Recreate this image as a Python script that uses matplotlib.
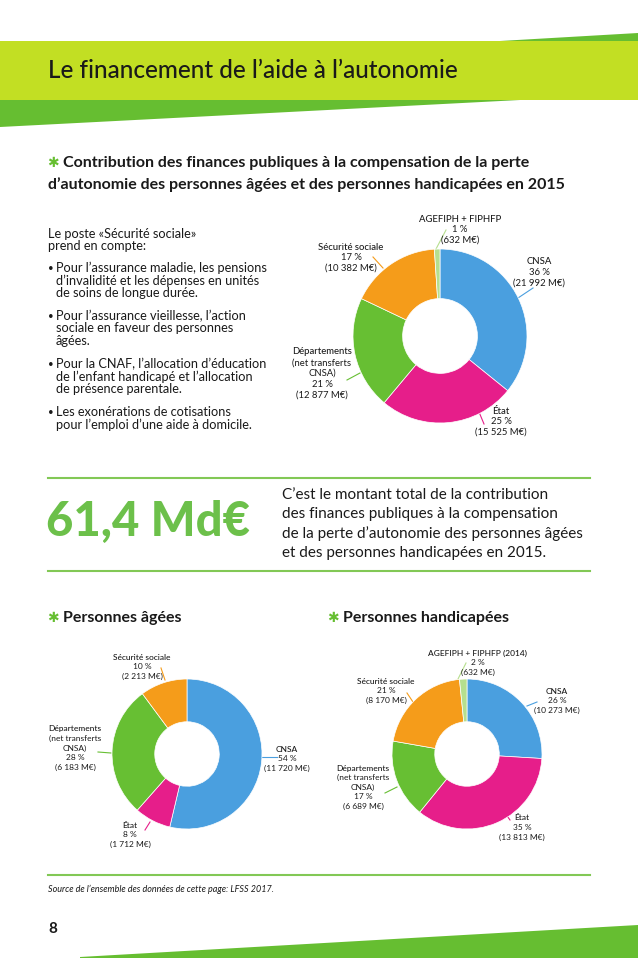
import matplotlib
matplotlib.use("Agg")
import matplotlib.pyplot as plt
from matplotlib.patches import Polygon, Rectangle

W, H = 638, 958
plt.rcParams['font.family'] = ['Lato', 'DejaVu Sans']

# ---- data (read from the page) ----
top_names = ["CNSA", "État", "Départements\n(net transferts\nCNSA)", "Sécurité sociale", "AGEFIPH + FIPHFP"]
top_values = [21992, 15525, 12877, 10382, 632]

aged_names = ["CNSA", "État", "Départements\n(net transferts\nCNSA)", "Sécurité sociale"]
aged_values = [11720, 1712, 6183, 2213]

hand_names = ["CNSA", "État", "Départements\n(net transferts\nCNSA)", "Sécurité sociale", "AGEFIPH + FIPHFP (2014)"]
hand_values = [10273, 13813, 6689, 8170, 632]

total_md = 61.4

bullets = [
    "Pour l\u2019assurance maladie, les pensions\nd\u2019invalidité et les dépenses en unités\nde soins de longue durée.",
    "Pour l\u2019assurance vieillesse, l\u2019action\nsociale en faveur des personnes\nâgées.",
    "Pour la CNAF, l\u2019allocation d\u2019éducation\nde l\u2019enfant handicapé et l\u2019allocation\nde présence parentale.",
    "Les exonérations de cotisations\npour l\u2019emploi d\u2019une aide à domicile.",
]

# ---- styles ----
funder_colors = {
    "CNSA": "#4a9fdf",
    "État": "#e61e8a",
    "Départements": "#67bf33",
    "Sécurité sociale": "#f59c1a",
    "AGEFIPH": "#b6df8e",
}
LIME = "#c2df23"
GREEN = "#66be31"
RULE = "#82c855"
TXT = "#1a1a1a"


def color_for(name):
    for key, c in funder_colors.items():
        if name.startswith(key):
            return c
    return "#888888"


def fmt_amount(v):
    return "({:,} M€)".format(v).replace(",", " ")


fig = plt.figure(figsize=(W / 100, H / 100), dpi=100)
ax = fig.add_axes([0, 0, 1, 1])
ax.set_xlim(0, W)
ax.set_ylim(H, 0)
ax.axis("off")

# header band
ax.add_patch(Rectangle((0, 41), W, 59, color=LIME, lw=0))
ax.add_patch(Polygon([(0, 100), (520, 100), (0, 127)], closed=True, color=GREEN, lw=0))
ax.add_patch(Polygon([(500, 41), (W, 33), (W, 41)], closed=True, color=GREEN, lw=0))
ax.text(48, 70, "Le financement de l\u2019aide à l\u2019autonomie", fontsize=17.5,
        color=TXT, va="center", ha="left", fontweight="medium")

# subtitle
ax.text(47, 163, "\u2731", fontsize=10, color=GREEN, va="center", ha="left", family=["DejaVu Sans"])
ax.text(63, 163, "Contribution des finances publiques à la compensation de la perte",
        fontsize=11.5, fontweight="bold", color=TXT, va="center")
ax.text(48, 185, "d\u2019autonomie des personnes âgées et des personnes handicapées en 2015",
        fontsize=11.5, fontweight="bold", color=TXT, va="center")

# left text block
FS_BODY = 9.2
ax.text(48, 234, "Le poste «Sécurité sociale»", fontsize=FS_BODY, color=TXT, va="center")
ax.text(48, 246, "prend en compte:", fontsize=FS_BODY, color=TXT, va="center")
bullet_y = [268, 316, 364, 412]
for y0, b in zip(bullet_y, bullets):
    ax.text(48, y0, "•", fontsize=7, color=TXT, va="center")
    for i, line in enumerate(b.split("\n")):
        ax.text(56, y0 + i * 12.4, line, fontsize=FS_BODY, color=TXT, va="center")


def donut(cx, cy, R, values, names, layout, step, fs):
    pax = fig.add_axes([(cx - R) / W, 1 - (cy + R) / H, 2 * R / W, 2 * R / H])
    pax.pie(values, colors=[color_for(n) for n in names], startangle=90,
            counterclock=False, radius=1,
            wedgeprops=dict(width=0.57, edgecolor="white", linewidth=0.5))
    pax.set_xlim(-1, 1)
    pax.set_ylim(-1, 1)
    pax.axis("off")
    total = sum(values)
    for name, v, (lx, ly, seg) in zip(names, values, layout):
        c = color_for(name)
        ax.plot([seg[0], seg[2]], [seg[1], seg[3]], color=c, lw=0.8)
        lines = name.split("\n")
        for i, line in enumerate(lines):
            ax.text(lx, ly + i * step, line, fontsize=fs, color=TXT, ha="center",
                    va="center", fontweight="medium" if i == 0 else "normal")
        n = len(lines)
        ax.text(lx, ly + n * step, "{} %".format(round(v / total * 100)), fontsize=fs,
                color=TXT, ha="center", va="center")
        ax.text(lx, ly + (n + 1) * step, fmt_amount(v), fontsize=fs,
                color=TXT, ha="center", va="center")


# label anchor (x, first line y) and leader segment, per wedge
top_layout = [
    (539, 262, (533, 288, 518, 298)),
    (501, 411, (484, 424, 479, 412)),
    (322, 352, (347, 380, 360, 373)),
    (351, 247, (373, 257, 383, 268)),
    (460, 219, (446, 230, 436, 249)),
]
donut(440, 336, 87, top_values, top_names, top_layout, 10.7, 6.8)

aged_layout = [
    (287, 749, (262, 757, 277, 757)),
    (130, 825, (145, 830, 150, 822)),
    (75, 729, (98, 752, 111, 753)),
    (142, 657, (161, 668, 165, 680)),
]
donut(187, 754, 75, aged_values, aged_names, aged_layout, 9.6, 6.0)

hand_layout = [
    (557, 691, (537, 702, 527, 706)),
    (522, 818, (510, 820, 505, 813)),
    (363, 768, (385, 793, 397, 787)),
    (386, 681, (407, 693, 413, 702)),
    (478, 653, (466, 663, 458, 679)),
]
donut(467, 754, 75, hand_values, hand_names, hand_layout, 9.6, 6.0)

# key figure block
ax.plot([48, 590], [478, 478], color=RULE, lw=1.5)
ax.plot([48, 590], [571, 571], color=RULE, lw=1.5)
ax.text(46, 522, "{:.1f} Md€".format(total_md).replace(".", ","), fontsize=34,
        fontweight="black", color="#6cc04a", va="center", ha="left")
para = ["C\u2019est le montant total de la contribution",
        "des finances publiques à la compensation",
        "de la perte d\u2019autonomie des personnes âgées",
        "et des personnes handicapées en 2015."]
for i, line in enumerate(para):
    ax.text(282, 495 + i * 19.3, line, fontsize=11.0, color=TXT, va="center")

# section headings
ax.text(47, 618, "\u2731", fontsize=10, color=GREEN, va="center", family=["DejaVu Sans"])
ax.text(63, 618, "Personnes âgées", fontsize=11.5, fontweight="bold", color=TXT, va="center")
ax.text(327, 618, "\u2731", fontsize=10, color=GREEN, va="center", family=["DejaVu Sans"])
ax.text(343, 618, "Personnes handicapées", fontsize=11.5, fontweight="bold", color=TXT, va="center")

# footer
ax.plot([48, 590], [875, 875], color=RULE, lw=1.5)
ax.text(48, 889, "Source de l\u2019ensemble des données de cette page: LFSS 2017.", fontsize=6.5,
        style="italic", color=TXT, va="center")
ax.text(48, 929, "8", fontsize=11, fontweight="bold", color=TXT, va="center")
ax.add_patch(Polygon([(80, 957), (W, 925), (W, H), (80, H)], closed=True, color=GREEN, lw=0))

fig.savefig("out.png", dpi=100)
